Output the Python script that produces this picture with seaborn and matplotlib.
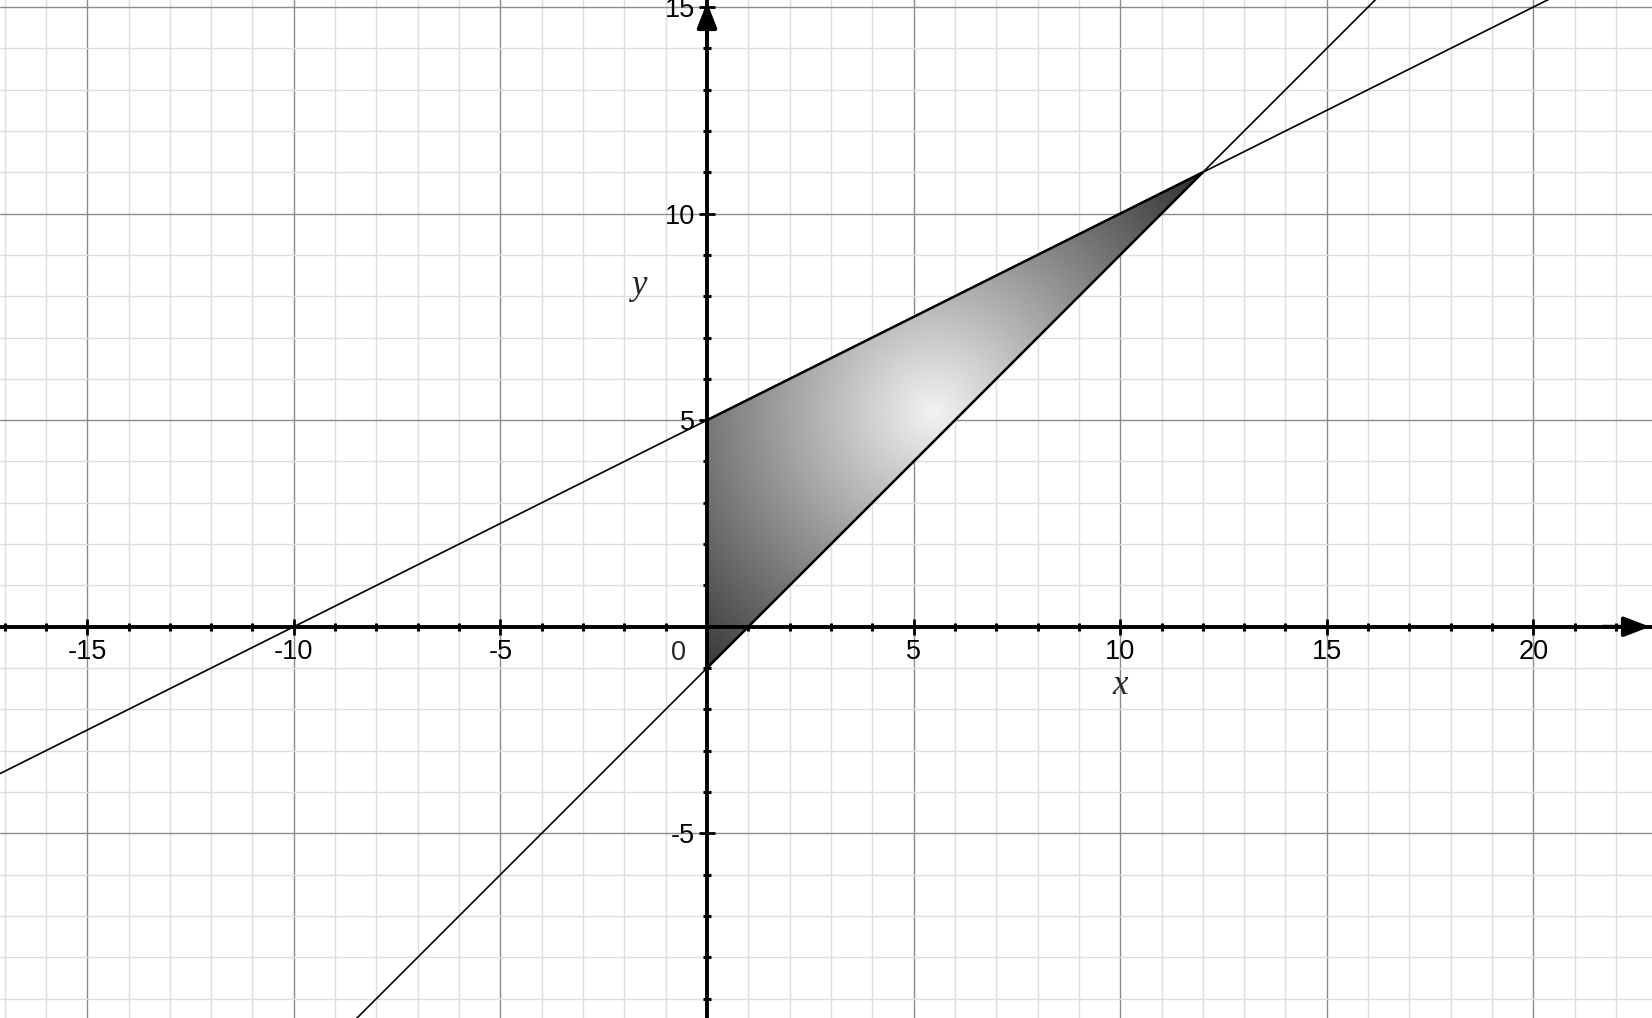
import numpy as np
import pandas as pd
import matplotlib
matplotlib.use("Agg")
import matplotlib.pyplot as plt
from matplotlib.patches import Polygon
from matplotlib.ticker import MultipleLocator
import seaborn as sns

# ---- data ----
x_limits = [-17.11, 22.87]
y_limits = [-9.47, 15.17]
line_slopes = [0.5, 1.0]
line_intercepts = [5.0, -1.0]
region_x = [0, 0, 12]
region_y = [5, -1, 11]
x_tick_values = [-15, -10, -5, 0, 5, 10, 15, 20]
y_tick_values = [-5, 0, 5, 10, 15]
gradient_center = (5.5, 5.2)

sns.set_theme(style="white")
plt.rcParams['font.family'] = ['Liberation Sans', 'DejaVu Sans']

fig = plt.figure(figsize=(16.52, 10.18), dpi=100)
ax = fig.add_axes([0, 0, 1, 1])
ax.set_xlim(*x_limits)
ax.set_ylim(*y_limits)

# grid
ax.xaxis.set_major_locator(MultipleLocator(5))
ax.yaxis.set_major_locator(MultipleLocator(5))
ax.xaxis.set_minor_locator(MultipleLocator(1))
ax.yaxis.set_minor_locator(MultipleLocator(1))
ax.grid(which='minor', color='#dedede', lw=1.0)
ax.grid(which='major', color='#8c8c8c', lw=1.0)
ax.set_axisbelow(True)

# gradient fill of region
xs = np.linspace(x_limits[0], x_limits[1], 800)
ys = np.linspace(y_limits[0], y_limits[1], 500)
XX, YY = np.meshgrid(xs, ys)
D = np.hypot(XX - gradient_center[0], YY - gradient_center[1])
val = np.clip(0.95 - D * 0.088, 0.2, 1.0)
im = ax.imshow(val, extent=[x_limits[0], x_limits[1], y_limits[0], y_limits[1]],
               origin='lower', cmap='gray', vmin=0, vmax=1, aspect='auto', zorder=2,
               interpolation='bilinear')
poly = Polygon(np.column_stack([region_x, region_y]), closed=True,
               facecolor='none', edgecolor='black', lw=1.8, zorder=4, joinstyle='round')
ax.add_patch(poly)
im.set_clip_path(poly)

# lines
xl = np.array(x_limits)
rows = []
for i, (m, b) in enumerate(zip(line_slopes, line_intercepts)):
    for xv in xl:
        rows.append({'x': xv, 'y': m * xv + b, 'line': i})
df = pd.DataFrame(rows)
sns.lineplot(data=df, x='x', y='y', units='line', estimator=None,
             color='black', lw=1.2, ax=ax, zorder=3)
ax.set_xlim(*x_limits)
ax.set_ylim(*y_limits)

# axes through origin
for s in ['top', 'right']:
    ax.spines[s].set_visible(False)
ax.spines['left'].set_position(('data', 0))
ax.spines['bottom'].set_position(('data', 0))
for s in ['left', 'bottom']:
    ax.spines[s].set_linewidth(2.8)
    ax.spines[s].set_color('black')
    ax.spines[s].set_zorder(5)

ax.tick_params(bottom=True, left=True, which='both')
ax.tick_params(which='major', direction='inout', length=11, width=2, color='black',
               labelsize=19.5, pad=3, labelcolor='black')
ax.tick_params(which='minor', direction='inout', length=6, width=2.2, color='black')
ax.set_xticks(x_tick_values)
ax.set_xticklabels([str(v) if v != 0 else '' for v in x_tick_values])
ax.set_yticks(y_tick_values)
ax.set_yticklabels([str(v) if v != 0 else '' for v in y_tick_values])
ax.set_xlabel('')
ax.set_ylabel('')

ax.text(-0.68, -0.64, '0', fontsize=19.5, ha='center', va='center')
ax.text(10.0, -1.41, 'x', fontsize=25, style='italic', family='Liberation Serif',
        ha='center', va='center')
ax.text(-1.62, 8.27, 'y', fontsize=25, style='italic', family='Liberation Serif',
        ha='center', va='center')

# arrows
ax.annotate('', xy=(x_limits[1] - 0.05, 0), xytext=(x_limits[1] - 1.2, 0),
            arrowprops=dict(arrowstyle='-|>,head_length=1.3,head_width=0.5',
                            color='black', lw=2.8, shrinkA=0, shrinkB=0), zorder=6)
ax.annotate('', xy=(0, y_limits[1] - 0.05), xytext=(0, y_limits[1] - 1.2),
            arrowprops=dict(arrowstyle='-|>,head_length=1.3,head_width=0.5',
                            color='black', lw=2.8, shrinkA=0, shrinkB=0), zorder=6)

fig.savefig('out.png', dpi=100)
